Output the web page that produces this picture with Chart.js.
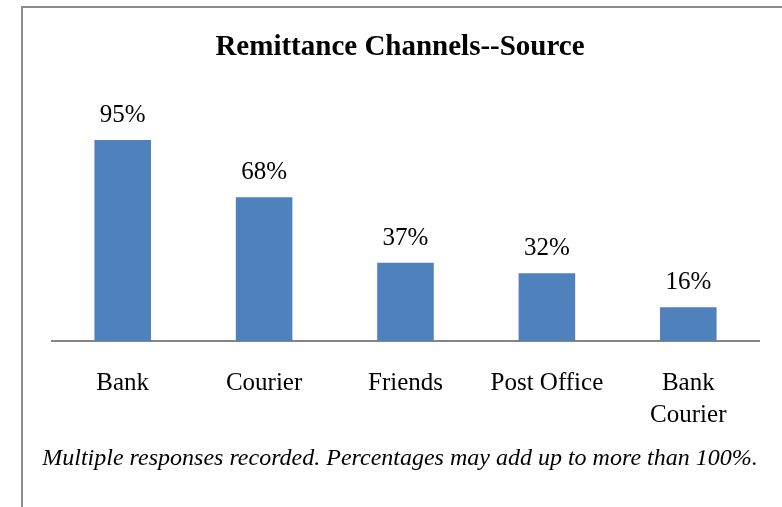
<!DOCTYPE html>
<html>
<head>
<meta charset="utf-8">
<script src="https://cdn.jsdelivr.net/npm/chart.js@4/dist/chart.umd.min.js"></script>
<style>
    body { margin: 0; background: #ffffff; }
    #channelsChart { display: block; }
</style>
</head>
<body>
<canvas id="channelsChart" width="782" height="507"></canvas>
<script>
const channels = ['Bank', 'Courier', 'Friends', 'Post Office', ['Bank', 'Courier']];
const shares = [95, 68, 37, 32, 16];
const chartTitle = 'Remittance Channels--Source';
const chartNote = 'Multiple responses recorded. Percentages may add up to more than 100%.';

const serif = '"Liberation Serif", "Times New Roman", serif';

// frame, heading, footnote and the value above each bar
const decorations = {
    id: 'decorations',
    beforeDraw(chart) {
        const ctx = chart.ctx;
        ctx.save();
        ctx.fillStyle = '#ffffff';
        ctx.fillRect(0, 0, chart.width, chart.height);
        ctx.strokeStyle = '#8c8c8c';
        ctx.lineWidth = 2;
        ctx.beginPath();
        ctx.moveTo(22, chart.height);
        ctx.lineTo(22, 7);
        ctx.lineTo(chart.width, 7);
        ctx.stroke();
        ctx.restore();
    },
    afterDatasetsDraw(chart) {
        const ctx = chart.ctx;
        ctx.save();
        ctx.fillStyle = '#000000';
        ctx.textAlign = 'center';
        ctx.textBaseline = 'alphabetic';

        ctx.font = 'bold 29px ' + serif;
        ctx.fillText(chartTitle, 400, 55);

        ctx.font = '25px ' + serif;
        chart.getDatasetMeta(0).data.forEach(function (bar, i) {
            ctx.fillText(shares[i] + '%', bar.x, bar.y - 18);
        });

        ctx.font = 'italic 24px ' + serif;
        ctx.fillText(chartNote, 400, 465);
        ctx.restore();
    }
};

const ctx = document.getElementById('channelsChart');

new Chart(ctx, {
    type: 'bar',
    data: {
        labels: channels,
        datasets: [{
            data: shares,
            backgroundColor: '#4f81bd',
            borderWidth: 0,
            categoryPercentage: 1,
            barPercentage: 0.4
        }]
    },
    options: {
        responsive: false,
        animation: false,
        layout: {
            padding: { top: 129.5, left: 52, right: 23, bottom: 50 }
        },
        plugins: {
            legend: { display: false },
            tooltip: { enabled: false }
        },
        scales: {
            x: {
                grid: { display: false, drawTicks: false },
                border: { display: true, color: '#868686', width: 2 },
                ticks: {
                    color: '#000000',
                    padding: 26,
                    font: { family: serif, size: 25, lineHeight: 1.28 }
                }
            },
            y: {
                display: false,
                min: 0,
                max: 100
            }
        }
    },
    plugins: [decorations]
});
</script>
</body>
</html>
